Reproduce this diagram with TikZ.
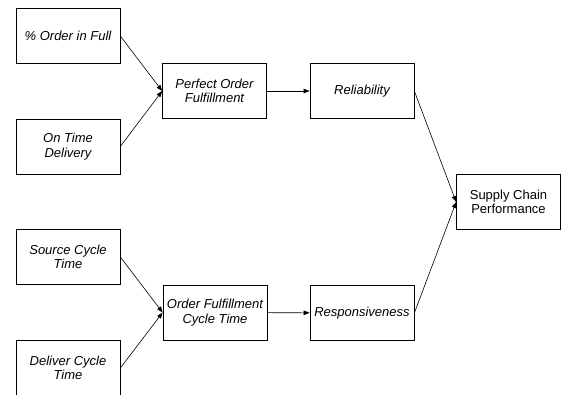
\documentclass[tikz,border=0pt]{standalone}
\usepackage{fontspec}
\setmainfont{Liberation Sans}
\usetikzlibrary{arrows.meta}

\begin{document}
\begin{tikzpicture}[x=1pt, y=-1pt,
    measure/.style={draw, line width=0.7pt, minimum width=104pt, minimum height=55pt,
        align=center, inner sep=1pt, font=\fontsize{13}{14.5}\selectfont\itshape},
    link/.style={-{Triangle[length=6pt,width=4.5pt]}, line width=0.6pt}]
    \clip (0,0) rectangle (562,394);

    \node[measure] (oif) at (68,36) {\% Order in Full};
    \node[measure] (otd) at (68,146.5) {On Time\\Delivery};
    \node[measure] (sct) at (68,257) {Source Cycle\\Time};
    \node[measure] (dct) at (68,368) {Deliver Cycle\\Time};

    \node[measure] (pof) at (214.5,91) {Perfect Order\\Fulfillment};
    \node[measure] (ofct) at (215,312.5) {Order Fulfillment\\Cycle Time};

    \node[measure] (rel) at (362,91) {Reliability};
    \node[measure] (resp) at (362,313) {Responsiveness};

    \node[measure, font=\fontsize{13}{14.5}\selectfont] (scp) at (508.5,202) {Supply Chain\\Performance};

    \draw[link] (oif.east) -- (pof.west);
    \draw[link] (otd.east) -- (pof.west);
    \draw[link] (sct.east) -- (ofct.west);
    \draw[link] (dct.east) -- (ofct.west);
    \draw[link] (pof) -- (rel);
    \draw[link] (ofct) -- (resp);
    \draw[link] (rel.east) -- (scp.west);
    \draw[link] (resp.east) -- (scp.west);
\end{tikzpicture}
\end{document}
